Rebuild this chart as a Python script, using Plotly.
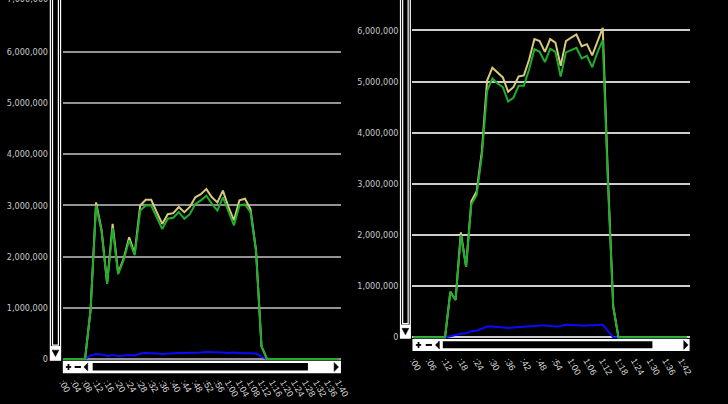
import plotly.graph_objects as go

W, H = 728, 404

# ---------------- data (values in millions) ----------------
left_time = list(range(0, 102, 2))  # seconds, 0 .. 100
left_total = [0, 0, 0, 0, 0,
              0.96, 3.06, 2.52, 1.48, 2.64, 1.68, 1.96, 2.38, 2.06, 3.00,
              3.11, 3.11, 2.87, 2.64, 2.83, 2.85, 2.97, 2.87, 2.97, 3.16,
              3.22, 3.32, 3.16, 3.06, 3.29, 2.97, 2.71, 3.10, 3.13, 2.93,
              2.13, 0.25,
              0, 0, 0, 0, 0, 0, 0, 0, 0, 0, 0, 0, 0, 0]
left_main = [0, 0, 0, 0, 0,
             0.96, 3.00, 2.49, 1.47, 2.56, 1.66, 1.94, 2.32, 2.03, 2.90,
             3.00, 3.00, 2.77, 2.54, 2.74, 2.76, 2.87, 2.74, 2.83, 3.03,
             3.10, 3.19, 3.03, 2.90, 3.16, 2.87, 2.61, 3.00, 3.02, 2.87,
             2.12, 0.25,
             0, 0, 0, 0, 0, 0, 0, 0, 0, 0, 0, 0, 0, 0]
left_minor = [0, 0, 0, 0, 0,
              0.07, 0.10, 0.09, 0.06, 0.08, 0.06, 0.07, 0.08, 0.07, 0.11,
              0.12, 0.12, 0.11, 0.10, 0.11, 0.11, 0.12, 0.12, 0.12, 0.13,
              0.13, 0.14, 0.14, 0.13, 0.13, 0.12, 0.13, 0.12, 0.12, 0.12,
              0.11, 0.05,
              0, 0, 0, 0, 0, 0, 0, 0, 0, 0, 0, 0, 0, 0]

right_time = list(range(0, 108, 2))  # seconds, 0 .. 106
right_total = [0, 0, 0, 0, 0, 0, 0,
               0.89, 0.73, 2.05, 1.38, 2.66, 2.85, 3.63, 5.02, 5.27, 5.18,
               5.08, 4.80, 4.89, 5.10, 5.12, 5.43, 5.83, 5.79, 5.58, 5.83,
               5.76, 5.31, 5.79, 5.86, 5.92, 5.69, 5.73, 5.51, 5.79, 6.05,
               3.10, 0.60,
               0, 0, 0, 0, 0, 0, 0, 0, 0, 0, 0, 0, 0, 0]
right_main = [0, 0, 0, 0, 0, 0, 0,
              0.89, 0.73, 2.00, 1.38, 2.60, 2.78, 3.55, 4.82, 5.06, 4.96,
              4.89, 4.61, 4.68, 4.92, 4.92, 5.24, 5.63, 5.58, 5.38, 5.64,
              5.58, 5.10, 5.57, 5.62, 5.66, 5.45, 5.50, 5.28, 5.57, 5.81,
              3.00, 0.60,
              0, 0, 0, 0, 0, 0, 0, 0, 0, 0, 0, 0, 0, 0]
right_minor = [0, 0, 0, 0, 0, 0, 0,
               0.02, 0.05, 0.07, 0.08, 0.12, 0.13, 0.17, 0.21, 0.21, 0.20,
               0.19, 0.18, 0.19, 0.20, 0.21, 0.22, 0.23, 0.23, 0.23, 0.22,
               0.21, 0.22, 0.245, 0.24, 0.23, 0.23, 0.23, 0.23, 0.24, 0.245,
               0.12, 0,
               0, 0, 0, 0, 0, 0, 0, 0, 0, 0, 0, 0, 0, 0]

y_tick_vals = [0, 1, 2, 3, 4, 5, 6]
y_tick_text = ["0", "1,000,000", "2,000,000", "3,000,000", "4,000,000",
               "5,000,000", "6,000,000"]
left_top_label = "7,000,000"

left_x_ticks = list(range(0, 104, 4))
left_x_text = [":00", ":04", ":08", ":12", ":16", ":20", ":24", ":28", ":32",
               ":36", ":40", ":44", ":48", ":52", ":56", "1:00", "1:04",
               "1:08", "1:12", "1:16", "1:20", "1:24", "1:28", "1:32",
               "1:36", "1:40"]
right_x_ticks = list(range(0, 108, 6))
right_x_text = [":00", ":06", ":12", ":18", ":24", ":30", ":36", ":42", ":48",
                ":54", "1:00", "1:06", "1:12", "1:18", "1:24", "1:30",
                "1:36", "1:42"]

TAN = "#d8c97c"
GREEN = "#1fae2c"
BLUE = "#0a0aff"
M = 1e6


def px(x):
    return x / W


def py(y):
    return 1 - y / H


fig = go.Figure()

for (t, tot, main, minor, xa, ya) in [
        (left_time, left_total, left_main, left_minor, "x", "y"),
        (right_time, right_total, right_main, right_minor, "x2", "y2")]:
    fig.add_trace(go.Scatter(x=t, y=[v * M for v in minor], mode="lines",
                             line=dict(color=BLUE, width=2), xaxis=xa, yaxis=ya,
                             showlegend=False, hoverinfo="skip"))
    fig.add_trace(go.Scatter(x=t, y=[v * M for v in tot], mode="lines",
                             line=dict(color=TAN, width=2), xaxis=xa, yaxis=ya,
                             showlegend=False, hoverinfo="skip"))
    fig.add_trace(go.Scatter(x=t, y=[v * M for v in main], mode="lines",
                             line=dict(color=GREEN, width=2), xaxis=xa, yaxis=ya,
                             showlegend=False, hoverinfo="skip"))

ylab_font = dict(family="Liberation Sans Narrow, DejaVu Sans Condensed, Arial Narrow, sans-serif",
                 size=9, color="#c8c8c8")
xlab_font = dict(family="Liberation Sans, Arial, sans-serif", size=9, color="#dcdcdc")

# plot frames (pixel positions of the two panels)
L_x0, L_x1, L_y0 = 58.2, 342, 364.2
R_x0, R_x1, R_y0 = 415, 698, 342.2
L_ppm = 51.73   # pixels per million, left
R_ppm = 51.67   # pixels per million, right
L_pps = 2.815   # pixels per second, left
R_pps = 2.683   # pixels per second, right
L_t0 = 58.2
R_t0 = 416.1

fig.update_layout(
    width=W, height=H,
    margin=dict(l=0, r=0, t=0, b=0),
    paper_bgcolor="#000000", plot_bgcolor="#000000",
    xaxis=dict(domain=[px(L_x0), px(L_x1)], anchor="y",
               range=[(L_x0 - L_t0) / L_pps, (L_x1 - L_t0) / L_pps],
               tickvals=left_x_ticks, ticktext=left_x_text, tickangle=60,
               tickfont=xlab_font, showgrid=False, zeroline=False,
               showline=False, ticks="", ticklabelstandoff=14),
    yaxis=dict(domain=[py(L_y0), 1], anchor="x",
               range=[-(L_y0 - 362.7) / L_ppm * M, 362.7 / L_ppm * M],
               tickvals=[v * M for v in y_tick_vals], ticktext=y_tick_text,
               tickfont=ylab_font, showgrid=True, gridcolor="#939393",
               gridwidth=1.5, zeroline=False, showline=False, ticks="",
               ticklabelstandoff=14),
    xaxis2=dict(domain=[px(R_x0), px(R_x1)], anchor="y2",
                range=[(R_x0 - R_t0) / R_pps, (R_x1 - R_t0) / R_pps],
                tickvals=right_x_ticks, ticktext=right_x_text, tickangle=60,
                tickfont=xlab_font, showgrid=False, zeroline=False,
                showline=False, ticks="", ticklabelstandoff=14),
    yaxis2=dict(domain=[py(R_y0), 1], anchor="x2",
                range=[-(R_y0 - 340.7) / R_ppm * M, 340.7 / R_ppm * M],
                tickvals=[v * M for v in y_tick_vals], ticktext=y_tick_text,
                tickfont=ylab_font, showgrid=True, gridcolor="#cdcdcd",
                gridwidth=1.5, zeroline=False, showline=False, ticks="",
                ticklabelstandoff=13),
)

# top tick label of the left axis, partly beyond the page edge
fig.add_annotation(text=left_top_label, xref="paper", yref="y", x=px(44.5),
                   y=7 * M, yshift=2, xanchor="right", yanchor="middle",
                   showarrow=False, font=ylab_font)

shapes = []


def rect(x0, y0, x1, y1, fill="rgba(0,0,0,0)", line="rgba(0,0,0,0)", lw=0):
    shapes.append(dict(type="rect", xref="paper", yref="paper",
                       x0=px(x0), x1=px(x1), y0=py(y1), y1=py(y0),
                       fillcolor=fill, line=dict(color=line, width=lw),
                       layer="above"))


def tri(points, color="#000000"):
    d = "M " + " L ".join(f"{px(a):.5f},{py(b):.5f}" for a, b in points) + " Z"
    shapes.append(dict(type="path", xref="paper", yref="paper", path=d,
                       fillcolor=color, line=dict(color=color, width=0.5),
                       layer="above"))


def hscroll(x0, x1, y0, y1, plus_x, minus_x, left_tip, inner_x0, inner_x1, right_tip):
    cy = (y0 + y1) / 2
    rect(x0, y0, x1, y1, fill="#ffffff")
    rect(inner_x0, y0 + 2.3, inner_x1, y1 - 2.8, fill="#000000")
    # plus glyph
    rect(plus_x - 2.7, cy - 0.9, plus_x + 2.7, cy + 0.9, fill="#000000")
    rect(plus_x - 0.9, cy - 3, plus_x + 0.9, cy + 3, fill="#000000")
    # minus glyph
    rect(minus_x - 3.2, cy - 1, minus_x + 3.2, cy + 1, fill="#000000")
    # arrows
    tri([(left_tip, cy), (left_tip + 4, cy - 4), (left_tip + 4, cy + 4)])
    tri([(right_tip, cy), (right_tip - 4.5, cy - 4.5), (right_tip - 4.5, cy + 4.5)])


def vscroll(x0, x1, y_bottom, box_top):
    cx = (x0 + x1) / 2
    rect(x0, -5, x1, y_bottom, line="#ffffff", lw=1.2)
    rect(x0 + 2.2, -5, x1 - 2.2, box_top, line="#ffffff", lw=1.2)
    rect(x0, box_top + 1, x1, y_bottom, fill="#ffffff")
    by = (box_top + y_bottom) / 2 + 0.5
    tri([(cx - 3.5, by - 3), (cx + 3.5, by - 3), (cx, by + 3.5)])


hscroll(58, 342, 364.3, 377, 63.8, 73.3, 79.5, 88.5, 308.3, 339.5)
hscroll(415, 698, 342.3, 354.5, 421.2, 431.7, 438.5, 446, 660, 696.5)
vscroll(45.3, 55.7, 363.8, 348.5)
vscroll(402.8, 412.8, 341.5, 326.8)

fig.update_layout(shapes=shapes)

fig.write_html("out.html")
